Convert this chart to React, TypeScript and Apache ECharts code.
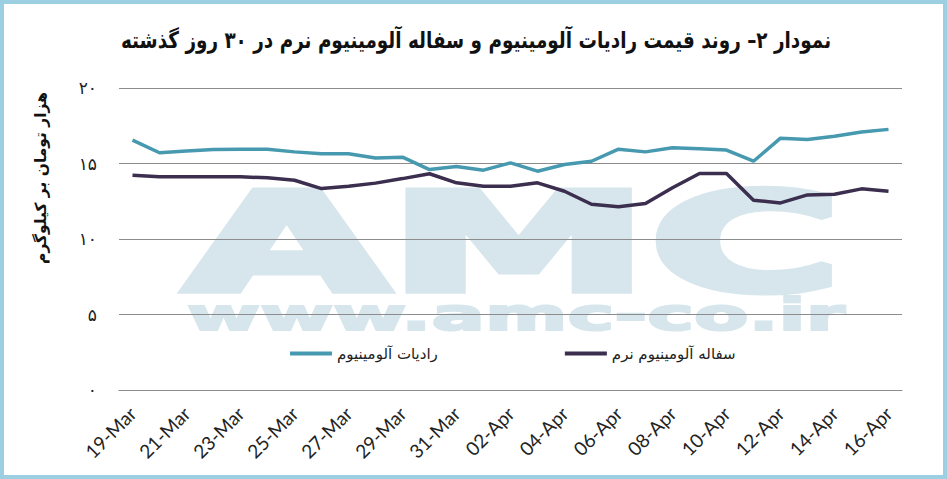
import React, { useEffect, useRef } from "react";
import * as echarts from "echarts";

const dates = [
  "19-Mar", "20-Mar", "21-Mar", "22-Mar", "23-Mar", "24-Mar", "25-Mar", "26-Mar",
  "27-Mar", "28-Mar", "29-Mar", "30-Mar", "31-Mar", "01-Apr", "02-Apr", "03-Apr",
  "04-Apr", "05-Apr", "06-Apr", "07-Apr", "08-Apr", "09-Apr", "10-Apr", "11-Apr",
  "12-Apr", "13-Apr", "14-Apr", "15-Apr", "16-Apr",
];

const radiatorName = "رادیات آلومینیوم";
const radiator = [
  16.55, 15.71, 15.82, 15.93, 15.95, 15.95, 15.77, 15.64, 15.64, 15.36,
  15.42, 14.6, 14.8, 14.56, 15.04, 14.49, 14.93, 15.15, 15.95, 15.77,
  16.04, 15.97, 15.89, 15.15, 16.68, 16.59, 16.81, 17.08, 17.26,
];

const scrapName = "سفاله آلومینیوم نرم";
const scrap = [
  14.22, 14.12, 14.12, 14.12, 14.12, 14.05, 13.89, 13.34, 13.49, 13.7,
  14.0, 14.32, 13.72, 13.49, 13.49, 13.72, 13.16, 12.3, 12.13, 12.35,
  13.39, 14.34, 14.34, 12.57, 12.39, 12.92, 12.96, 13.32, 13.16,
];

const titleText = "نمودار ۲– روند قیمت رادیات آلومینیوم و سفاله آلومینیوم نرم در ۳۰ روز گذشته";
const yAxisTitle = "هزار تومان بر کیلوگرم";
const persianDigits = ["۰", "۱", "۲", "۳", "۴", "۵", "۶", "۷", "۸", "۹"];

const toPersian = (v: number) =>
  String(v).replace(/[0-9]/g, (d) => persianDigits[Number(d)]);

export default function App() {
  const ref = useRef<HTMLDivElement>(null);

  useEffect(() => {
    if (!ref.current) return;
    const chart = echarts.init(ref.current, null, { renderer: "svg" });
    const wm = "#d6e6ec";
    chart.setOption({
      animation: false,
      backgroundColor: "#ffffff",
      grid: { left: 119, right: 45, top: 88, bottom: 89 },
      legend: {
        left: 290,
        top: 346,
        padding: 0,
        icon: "rect",
        itemWidth: 42,
        itemHeight: 4,
        itemGap: 127,
        textStyle: { fontFamily: "DejaVu Sans", fontSize: 15, color: "#222" },
        data: [radiatorName, scrapName],
      },
      xAxis: {
        type: "category",
        data: dates,
        boundaryGap: true,
        axisLine: { lineStyle: { color: "#8c8c8c", width: 1 } },
        axisTick: { interval: 1, length: 6, lineStyle: { color: "#8c8c8c" } },
        axisLabel: {
          interval: 1,
          rotate: 45,
          margin: 20,
          fontFamily: "Lato",
          fontSize: 19,
          color: "#222",
        },
        splitLine: { show: false },
      },
      yAxis: {
        type: "value",
        min: 0,
        max: 20,
        interval: 5,
        axisLine: { show: false },
        axisTick: { show: false },
        axisLabel: {
          margin: 22,
          fontFamily: "DejaVu Sans",
          fontSize: 17,
          color: "#222",
          formatter: (v: number) => toPersian(v),
        },
        splitLine: { lineStyle: { color: "#8c8c8c", width: 1 } },
      },
      graphic: [
        {
          type: "rect",
          z: 100,
          shape: { x: 2, y: 2, width: 943, height: 475 },
          style: { fill: "none", stroke: "#9ccfe1", lineWidth: 4 },
        },
        {
          type: "text",
          z: -1,
          x: 185,
          y: 243,
          scaleX: 1.93,
          style: {
            text: "AMC",
            fill: wm,
            stroke: wm,
            lineWidth: 7,
            font: "bold 136px 'DejaVu Sans'",
            align: "left",
            verticalAlign: "middle",
          },
        },
        {
          type: "text",
          z: -1,
          x: 187,
          y: 315,
          scaleX: 1.8,
          style: {
            text: "www.amc-co.ir",
            fill: wm,
            stroke: wm,
            lineWidth: 2,
            font: "bold 44px 'DejaVu Sans'",
            align: "left",
            verticalAlign: "middle",
          },
        },
        {
          type: "text",
          x: 476,
          y: 40,
          scaleX: 0.8,
          style: {
            text: titleText,
            fill: "#111",
            font: "bold 23px 'DejaVu Sans'",
            align: "center",
            verticalAlign: "middle",
          },
        },
        {
          type: "text",
          x: 41,
          y: 178,
          rotation: Math.PI / 2,
          style: {
            text: yAxisTitle,
            fill: "#111",
            font: "bold 15.5px 'DejaVu Sans'",
            align: "center",
            verticalAlign: "middle",
          },
        },
      ],
      series: [
        {
          name: radiatorName,
          type: "line",
          data: radiator,
          symbol: "none",
          lineStyle: { color: "#4699af", width: 3.5 },
          itemStyle: { color: "#4699af" },
          z: 3,
        },
        {
          name: scrapName,
          type: "line",
          data: scrap,
          symbol: "none",
          lineStyle: { color: "#3c2e4e", width: 3.5 },
          itemStyle: { color: "#3c2e4e" },
          z: 3,
        },
      ],
    });
    return () => chart.dispose();
  }, []);

  return (
    <div
      ref={ref}
      style={{ position: "absolute", left: 0, top: 0, width: 947, height: 479 }}
    />
  );
}
